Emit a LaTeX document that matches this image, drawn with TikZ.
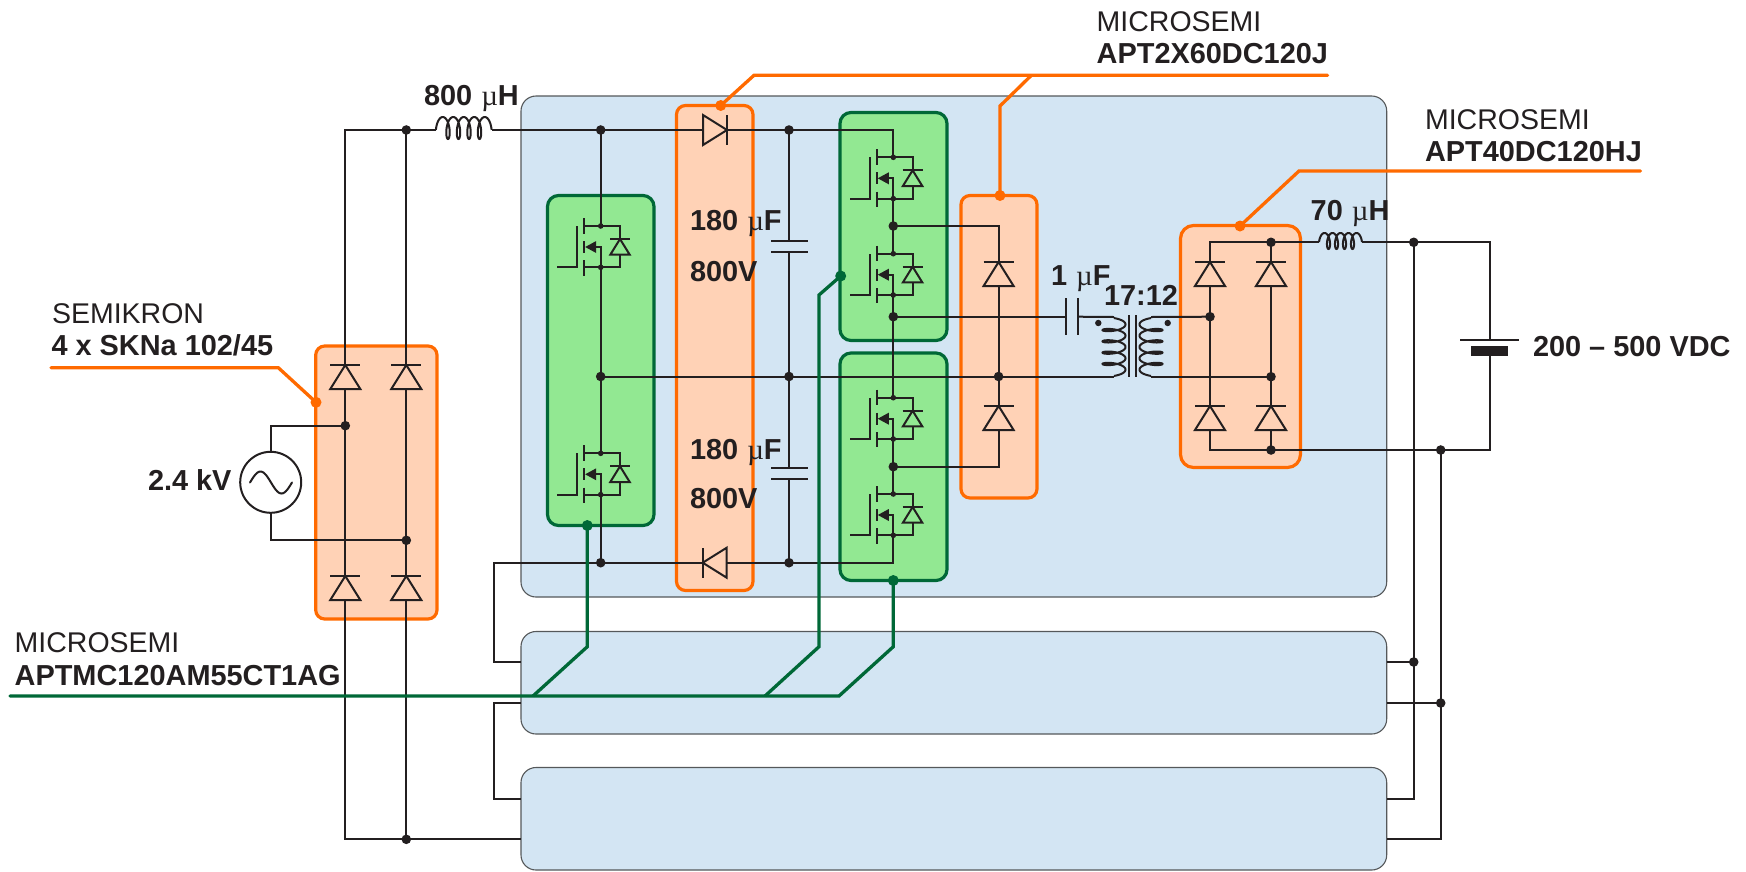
\documentclass[tikz,border=0pt]{standalone}
\usepackage{fontspec}
\setmainfont{Liberation Sans}
\newfontfamily\mufont{Liberation Serif}
\definecolor{ink}{HTML}{231F20}
\definecolor{bluefill}{HTML}{D3E5F3}
\definecolor{blueline}{HTML}{55585A}
\definecolor{orgfill}{HTML}{FFD2B6}
\definecolor{orgline}{HTML}{FF6A00}
\definecolor{grnfill}{HTML}{92E892}
\definecolor{grnline}{HTML}{006837}
\newcommand{\blk}[6]{%
  \pgfmathsetmacro\blkw{#5-#3}\pgfmathsetmacro\blkh{#6-#4}%
  \pgfmathsetmacro\blkx{(#3+#5)/2}\pgfmathsetmacro\blky{(#4+#6)/2}%
  \node[#2,minimum width=\blkw pt,minimum height=\blkh pt] (#1) at (\blkx,\blky) {};}
\newcommand{\mumark}{{\mdseries\mufont\kern1pt µ}}
\tikzset{
  x=1pt,y=-1pt,
  wire/.style={draw=ink,line width=2pt,line join=miter},
  blockbase/.style={rectangle,inner sep=0pt,outer sep=0pt},
  bluebox/.style={blockbase,fill=bluefill,draw=blueline,line width=1.1pt,rounded corners=15pt},
  orgbox/.style={blockbase,fill=orgfill,draw=orgline,line width=3.2pt,rounded corners=9pt},
  orgbig/.style={orgbox,rounded corners=13pt},
  grnbox/.style={blockbase,fill=grnfill,draw=grnline,line width=3.2pt,rounded corners=11pt},
  jdot/.style={circle,fill=ink,inner sep=0pt,minimum size=9.6pt},
  odot/.style={circle,fill=orgline,inner sep=0pt,minimum size=11pt},
  gdot/.style={circle,fill=grnline,inner sep=0pt,minimum size=11pt},
  orgleader/.style={draw=orgline,line width=3.3pt,line join=miter},
  grnleader/.style={draw=grnline,line width=3.3pt,line join=miter},
  lab/.style={anchor=base west,inner sep=0pt,outer sep=0pt,text=ink,font=\fontsize{28.5}{30}\selectfont},
  labb/.style={lab,font=\fontsize{28.9}{30}\selectfont\bfseries},
  pics/diode/.style={code={
    \coordinate (-k) at (0,0);
    \coordinate (-a) at (0,24);
    \draw[wire] (-15,0) -- (15,0);
    \draw[wire] (0,0) -- (15,24) -- (-15,24) -- cycle;
  }},
  pics/mosfet/.style={code={
    \coordinate (-d) at (0,0);
    \coordinate (-s) at (0,41.3);
    \draw[wire] (-43.3,41.3) -- (-23.3,41.3) -- (-23.3,0);
    \draw[wire] (-16.7,-8) -- (-16.7,7.7);
    \draw[wire] (-16.7,15) -- (-16.7,27);
    \draw[wire] (-16.7,34.3) -- (-16.7,49.7);
    \draw[wire] (-16.7,0) -- (19.3,0) -- (19.3,13);
    \draw[wire] (9.3,13) -- (29.3,13);
    \draw[wire] (19.3,13) -- (29,28.7) -- (9.6,28.7) -- cycle;
    \draw[wire] (19.3,28.7) -- (19.3,41.3) -- (-16.7,41.3);
    \fill[ink] (-15.5,21) -- (-4.5,15) -- (-4.5,27) -- cycle;
    \draw[wire] (-5,21) -- (0,21) -- (0,41.3);
    \fill[ink] (0,0) circle (2.8);
    \fill[ink] (0,41.3) circle (2.8);
  }},
}
\begin{document}
\begin{tikzpicture}
\useasboundingbox (0,0) rectangle (1746,871);
% ---------- blocks
\blk{bmain}{bluebox}{521}{96}{1386.7}{597}
\blk{bmid}{bluebox}{521}{631.5}{1386.7}{734}
\blk{blow}{bluebox}{521}{767.5}{1386.7}{870}
\blk{orect}{orgbox}{315.7}{346}{437}{619}
\blk{ocap}{orgbox}{676.5}{105.5}{753}{590.5}
\blk{ofree}{orgbox}{961}{195.5}{1037}{498}
\blk{obridge}{orgbig}{1180.5}{225.5}{1300.5}{467.5}
\blk{gleft}{grnbox}{547.5}{195.5}{654}{525.5}
\blk{gup}{grnbox}{840}{112.5}{947}{340.5}
\blk{gdown}{grnbox}{840}{353}{947}{580.5}
% ---------- junctions
\coordinate (jr1) at (345.3,425.7);
\coordinate (jr2) at (406.3,540.3);
\coordinate (jtl) at (406.3,130);
\coordinate (jbl) at (406.3,839.3);
\coordinate (jm5) at (600.7,130);
\coordinate (jm5b) at (600.7,376.5);
\coordinate (jm6) at (600.7,562.7);
\coordinate (jc1) at (789,130);
\coordinate (jc2) at (789,376.5);
\coordinate (jc3) at (789,562.7);
\coordinate (jh1) at (893.3,226);
\coordinate (jh2) at (893.3,316.7);
\coordinate (jh3) at (893.3,466.7);
\coordinate (jfw) at (998.6,376.5);
\coordinate (jb1) at (1271,242.3);
\coordinate (jb2) at (1210,316.7);
\coordinate (jb3) at (1271,376.7);
\coordinate (jb4) at (1271,450);
\coordinate (jo1) at (1413.7,242.3);
\coordinate (jo2) at (1440.7,450);
\coordinate (jo3) at (1413.7,662);
\coordinate (jo4) at (1440.7,703);
% ---------- parts
\pic (d1) at (345.3,365) {diode};
\pic (d2) at (406.3,365) {diode};
\pic (d3) at (345.3,576) {diode};
\pic (d4) at (406.3,576) {diode};
\pic[rotate=-90] (d5) at (727,130) {diode};
\pic[rotate=90] (d6) at (702.7,562.7) {diode};
\pic (d7) at (998.6,262) {diode};
\pic (d8) at (998.6,406) {diode};
\pic (d9) at (1210,262) {diode};
\pic (d10) at (1271,262) {diode};
\pic (d11) at (1210,406) {diode};
\pic (d12) at (1271,406) {diode};
\pic (m1) at (893.3,157.3) {mosfet};
\pic (m2) at (893.3,253.7) {mosfet};
\pic (m3) at (893.3,397.7) {mosfet};
\pic (m4) at (893.3,494) {mosfet};
\pic (m5) at (600.7,226) {mosfet};
\pic (m6) at (600.7,453.3) {mosfet};
% source
\node[circle,draw=ink,line width=2pt,inner sep=0pt,minimum size=61pt] (src) at (270.7,482.3) {};
\draw[wire,line cap=round] plot[domain=0:360,samples=50,variable=\t] ({250+42*(\t/360)},{482.5-11*sin(\t)});
% capacitors
\coordinate (c1a) at (789,241); \coordinate (c1b) at (789,252);
\coordinate (c2a) at (789,468.3); \coordinate (c2b) at (789,479);
\coordinate (c3a) at (1066.4,316.7); \coordinate (c3b) at (1078,316.7);
\draw[wire] (771,241) -- (808,241); \draw[wire] (771,252) -- (808,252);
\draw[wire] (771,468.3) -- (808,468.3); \draw[wire] (771,479) -- (808,479);
\draw[wire] (1066.4,298) -- (1066.4,335); \draw[wire] (1078,298) -- (1078,335);
% inductors
\coordinate (l1a) at (435.9,130); \coordinate (l1b) at (491.6,130);
\coordinate (l2a) at (1319,242.3); \coordinate (l2b) at (1362,242.3);
\draw[wire] plot[domain=-100:1540,samples=260,variable=\t] ({442.75+10.5*(\t/360)+4*sin(\t)},{128-11*cos(\t)});
\draw[wire] plot[domain=-97:1537,samples=260,variable=\t] ({1324.5+8*(\t/360)+3.3*sin(\t)},{241-8*cos(\t)});
% transformer
\coordinate (tp1) at (1114,317); \coordinate (tp2) at (1114,376.5);
\coordinate (ts1) at (1151,317); \coordinate (ts2) at (1151,376.7);
\draw[wire] plot[domain=-90:1530,samples=260,variable=\t] ({1114+11.5*cos(\t)},{324.4+11.3*(\t/360)+3.5*sin(\t)});
\draw[wire] plot[domain=-90:1530,samples=260,variable=\t] ({1151-11.5*cos(\t)},{324.4+11.3*(\t/360)+3.5*sin(\t)});
\draw[wire] (1129,315) -- (1129,377); \draw[wire] (1135.5,315) -- (1135.5,377);
\fill[ink] (1098.3,323) circle (3.2);
\fill[ink] (1167.7,323) circle (3.2);
% battery
\coordinate (bp) at (1490,340); \coordinate (bn) at (1490,356);
\draw[wire] (1460,340) -- (1519,340);
\fill[ink] (1471,346) rectangle (1507.5,356);
% ---------- wires
\draw[wire] (l1a) -| (d1-k);
\draw[wire] (jtl) -- (d2-k);
\draw[wire] (d1-a) -- (jr1) -- (d3-k);
\draw[wire] (d2-a) -- (jr2) -- (d4-k);
\draw[wire] (d3-a) |- (blow.west |- jbl);
\draw[wire] (d4-a) -- (jbl);
\draw[wire] (src.north) |- (jr1);
\draw[wire] (src.south) |- (jr2);
\draw[wire] (l1b) -- (d5-a);
\draw[wire] (d5-k) -- (jc1) -| (m1-d);
\draw[wire] (m1-s) -- (jh1) -- (m2-d);
\draw[wire] (m2-s) -- (jh2) -- (m3-d);
\draw[wire] (m3-s) -- (jh3) -- (m4-d);
\draw[wire] (m4-s) |- (d6-a);
\draw[wire] (jm5) -- (m5-d);
\draw[wire] (m5-s) -- (jm5b) -- (m6-d);
\draw[wire] (m6-s) -- (jm6);
\draw[wire] (jc1) -- (c1a);
\draw[wire] (c1b) -- (jc2) -- (c2a);
\draw[wire] (c2b) -- (jc3);
\draw[wire] (d6-k) -- (494,562.7) |- (bmid.west |- jo3);
\draw[wire] (jm5b) -- (tp2);
\draw[wire] (jh1) -| (d7-k);
\draw[wire] (d7-a) -- (d8-k);
\draw[wire] (d8-a) |- (jh3);
\draw[wire] (jh2) -- (c3a);
\draw[wire] (c3b) -- (tp1);
\draw[wire] (ts1) -- (jb2);
\draw[wire] (ts2) -- (jb3);
\draw[wire] (d9-k) |- (jb1);
\draw[wire] (jb1) -- (d10-k);
\draw[wire] (jb1) -- (l2a);
\draw[wire] (d9-a) -- (jb2) -- (d11-k);
\draw[wire] (d10-a) -- (jb3) -- (d12-k);
\draw[wire] (d11-a) |- (jb4);
\draw[wire] (d12-a) -- (jb4);
\draw[wire] (jb4) -- (jo2) -| (bn);
\draw[wire] (l2b) -- (jo1) -| (bp);
\draw[wire] (jo1) -- (jo3) -- (1413.7,798.7) -- (blow.east |- 0,798.7);
\draw[wire] (jo2) -- (jo4) -- (1440.7,839.3) -- (blow.east |- jbl);
\draw[wire] (bmid.east |- jo3) -- (jo3);
\draw[wire] (bmid.east |- jo4) -- (jo4);
\draw[wire] (bmid.west |- jo4) -- (494,703) |- (blow.west |- 0,798.7);
% ---------- junction dots
\foreach \n in {jr1,jr2,jtl,jbl,jm5,jm5b,jm6,jc1,jc2,jc3,jh1,jh2,jh3,jfw,jb1,jb2,jb3,jb4,jo1,jo2,jo3,jo4}
  \node[jdot] (dot-\n) at (\n) {};
% ---------- leaders
\node[odot] (ld1) at (316,402.3) {};
\node[odot] (ld2) at (720.7,105.5) {};
\node[odot] (ld3) at (1000,195.5) {};
\node[odot] (ld4) at (1240,226) {};
\coordinate (e1) at (51,367.7);
\coordinate (e2) at (1327.6,75.3);
\coordinate (e4) at (1640.5,171);
\draw[orgleader,line cap=round] (ld1.center) -- (278.3,367.7) -- (e1);
\draw[orgleader,line cap=round] (ld2.center) -- (754,75.3) -- (e2);
\draw[orgleader] (ld3.center) -- (1000,106) -- (1031.4,75.3);
\draw[orgleader,line cap=round] (ld4.center) -- (1299,171) -- (e4);
\node[gdot] (gd1) at (587.3,525.5) {};
\node[gdot] (gd2) at (840.7,276) {};
\node[gdot] (gd3) at (893.3,580.5) {};
\coordinate (g0) at (10,696);
\draw[grnleader,line cap=round] (g0) -- (839,696) -- (893.3,646.7) -- (gd3.center);
\draw[grnleader] (533,696) -- (587.3,646.7) -- (gd1.center);
\draw[grnleader] (765,696) -- (819,646.7) -- (819,295) -- (gd2.center);
% ---------- labels
\node[lab] (t1) at (52,323) {SEMIKRON};
\node[labb] (t2) at (51.5,355.7) {4 x SKNa 102/45};
\node[labb] (t3) at (148,490) {2.4 kV};
\node[labb] (t4) at (424,105) {800 \mumark H};
\node[lab] (t5) at (1096.7,31) {MICROSEMI};
\node[labb] (t6) at (1096.7,63.3) {APT2X60DC120J};
\node[lab] (t7) at (1425,129) {MICROSEMI};
\node[labb] (t8) at (1425,161.7) {APT40DC120HJ};
\node[lab] (t9) at (14.7,652) {MICROSEMI};
\node[labb] (t10) at (14.7,685) {APTMC120AM55CT1AG};
\node[labb] (t11) at (690,230.7) {180 \mumark F};
\node[labb] (t12) at (690,281) {800V};
\node[labb] (t13) at (690,459) {180 \mumark F};
\node[labb] (t14) at (690,508) {800V};
\node[labb] (t15) at (1051,285) {1 \mumark F};
\node[labb] (t16) at (1104,305) {17:12};
\node[labb] (t17) at (1310.7,220.7) {70 \mumark H};
\node[labb] (t18) at (1533,356) {200 – 500 VDC};
\end{tikzpicture}
\end{document}
